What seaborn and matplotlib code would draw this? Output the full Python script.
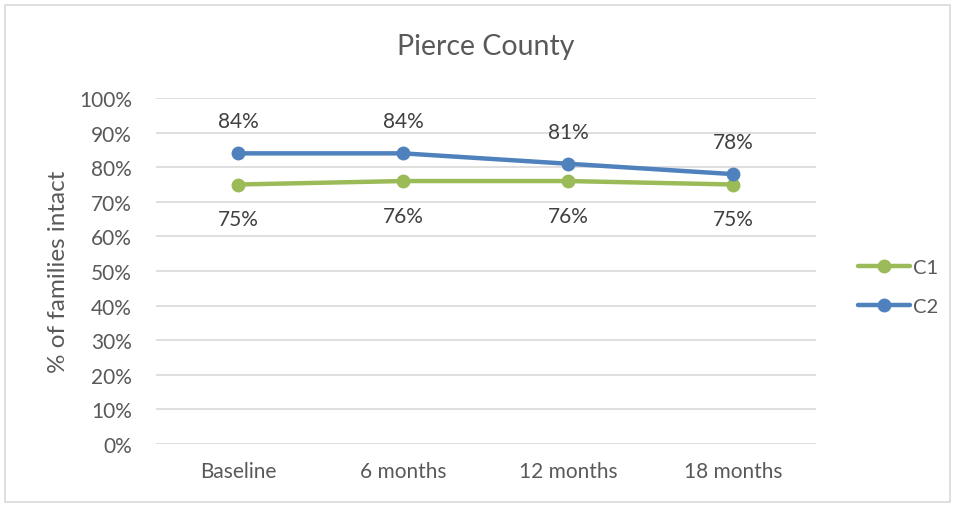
import matplotlib
matplotlib.use("Agg")
import matplotlib.pyplot as plt
import seaborn as sns
import pandas as pd
from matplotlib.patches import Rectangle
from matplotlib.lines import Line2D

categories = ["Baseline", "6 months", "12 months", "18 months"]
c1_values = [75, 76, 76, 75]
c2_values = [84, 84, 81, 78]
y_ticks = [0, 10, 20, 30, 40, 50, 60, 70, 80, 90, 100]

series_names = ["C1", "C2"]
series_colors = {"C1": "#9BBB59", "C2": "#4F81BD"}

df = pd.DataFrame({
    "period": categories * 2,
    "x": list(range(len(categories))) * 2,
    "value": c1_values + c2_values,
    "series": ["C1"] * len(categories) + ["C2"] * len(categories),
})

sns.set_theme(style="white")
plt.rcParams["font.family"] = ["Lato", "DejaVu Sans"]
text_color = "#595959"

fig = plt.figure(figsize=(9.56, 5.06), dpi=100)
ax = fig.add_axes([155.5 / 956, 1 - 445 / 506, 660 / 956, 346 / 506])

# outer chart frame
fig.patches.append(Rectangle((5 / 956, 3 / 506), 945 / 956, 497 / 506,
                             transform=fig.transFigure, fill=False,
                             edgecolor="#D9D9D9", linewidth=1.2))

sns.lineplot(data=df, x="x", y="value", hue="series", hue_order=series_names,
             palette=series_colors, marker="o", markersize=10, linewidth=3.2,
             markeredgewidth=0, ax=ax, legend=False, sort=False)

ax.set_xlim(-0.5, len(categories) - 0.5)
ax.set_ylim(0, 100)
ax.set_yticks(y_ticks)
ax.set_yticklabels([f"{t}%" for t in y_ticks], fontsize=15, color=text_color)
ax.set_xticks(range(len(categories)))
ax.set_xticklabels(categories, fontsize=15, color=text_color)
ax.tick_params(axis="x", length=0, pad=12)
ax.tick_params(axis="y", length=0, pad=17)
ax.grid(axis="y", color="#D9D9D9", linewidth=1.2)
ax.grid(axis="x", visible=False)
for s in ax.spines.values():
    s.set_visible(False)
ax.set_xlabel("")
ax.set_ylabel("% of families intact", fontsize=17.5, color=text_color)
ax.yaxis.set_label_coords(-0.131, 0.5)

# data labels: C2 above, C1 below
for i, v in enumerate(c2_values):
    ax.annotate(f"{v}%", (i, v), xytext=(0, 32), textcoords="offset pixels",
                ha="center", va="center", fontsize=15, color="#404040")
for i, v in enumerate(c1_values):
    ax.annotate(f"{v}%", (i, v), xytext=(0, -35), textcoords="offset pixels",
                ha="center", va="center", fontsize=15, color="#404040")

fig.text(486 / 956, 1 - 47 / 506, "Pierce County", ha="center", va="center",
         fontsize=20.5, color=text_color)

# legend at the right
handles = [Line2D([0], [0], color=series_colors[n], marker="o", markersize=10,
                  linewidth=3.2, markeredgewidth=0) for n in series_names]
fig.legend(handles, series_names, loc="center left",
           bbox_to_anchor=(848 / 956, 1 - 288 / 506), frameon=False,
           fontsize=14.5, labelcolor=text_color, handlelength=2.6,
           handletextpad=0.12, labelspacing=1.1, borderpad=0)

fig.savefig("out.png", dpi=100, facecolor="white")
